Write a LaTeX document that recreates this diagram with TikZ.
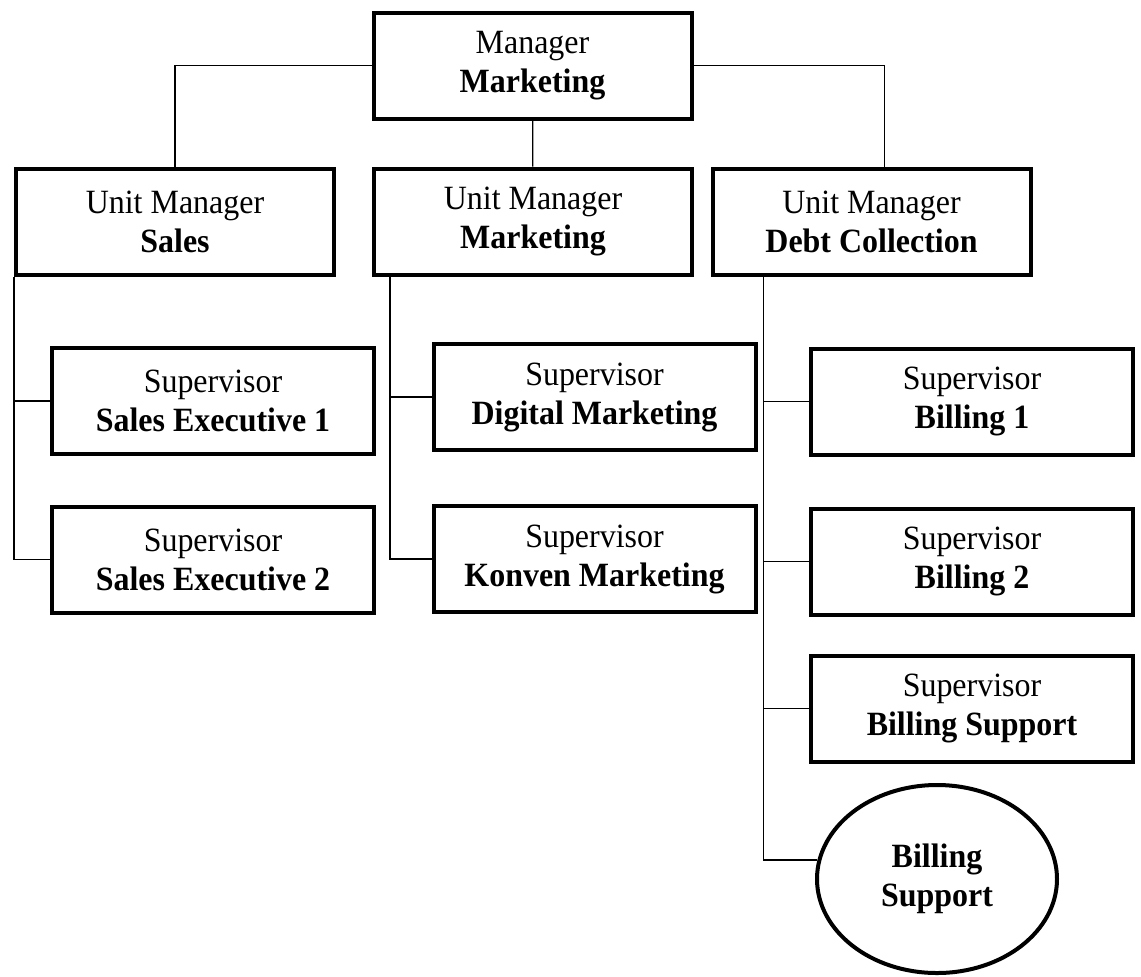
\documentclass[tikz,border=0pt]{standalone}
\usepackage{fontspec}
\setmainfont{Liberation Serif}[FakeStretch=0.94]
\usepackage{tikz}
\usetikzlibrary{calc, positioning, shapes.geometric}

\begin{document}
\begin{tikzpicture}[x=0.5pt, y=-0.5pt,
    every node/.style={font=\fontsize{17}{19.5}\selectfont, align=center},
    box/.style={draw, line width=2pt, minimum width=159pt, minimum height=53pt, inner sep=0pt},
    oval/.style={draw, ellipse, line width=2pt, minimum width=120pt, minimum height=94pt, inner sep=0pt},
    link/.style={line width=0.6pt}]
  \useasboundingbox (0,0) rectangle (1141,976);

  % top
  \node[box] (M) at (532.5,65.5) {Manager\\\textbf{Marketing}};

  % unit managers
  \node[box] (US) at (175,221.5) {Unit Manager\\\textbf{Sales}};
  \node[box] (UM) at (533,221.5) {Unit Manager\\\textbf{Marketing}};
  \node[box] (UD) at (871.5,221.5) {Unit Manager\\\textbf{Debt Collection}};

  % supervisors
  \node[box, minimum width=161pt] (SE1) at (213,401) {Supervisor\\\textbf{Sales Executive 1}};
  \node[box, minimum width=161pt] (SE2) at (213,559.5) {Supervisor\\\textbf{Sales Executive 2}};
  \node[box, minimum width=161pt] (DM) at (594.5,397) {Supervisor\\\textbf{Digital Marketing}};
  \node[box, minimum width=161pt] (KM) at (594.5,559) {Supervisor\\\textbf{Konven Marketing}};
  \node[box, minimum width=161pt] (B1) at (972,401.5) {Supervisor\\\textbf{Billing 1}};
  \node[box, minimum width=161pt] (B2) at (972,561.5) {Supervisor\\\textbf{Billing 2}};
  \node[box, minimum width=161pt] (BS) at (972,708.5) {Supervisor\\\textbf{Billing Support}};
  \node[oval] (BSO) at (937,879) {\textbf{Billing}\\\textbf{Support}};

  % spines
  \coordinate (sS) at (US.south west);
  \coordinate (sM) at ([xshift=9pt]UM.south west);
  \coordinate (sD) at ([xshift=26.5pt]UD.south west);

  \draw[link] (M.west) -| (US.north);
  \draw[link] (M) -- (UM);
  \draw[link] (M.east) -| ([xshift=6.5pt]UD.north);

  \draw[link] (sS) |- (SE1.west);
  \draw[link] (sS) |- (SE2.west);
  \draw[link] (sM) |- (DM.west);
  \draw[link] (sM) |- (KM.west);
  \draw[link] (sD) |- (B1.west);
  \draw[link] (sD) |- (B2.west);
  \draw[link] (sD) |- (BS.west);
  \draw[link] (sD) |- (BSO.171);

\end{tikzpicture}
\end{document}
